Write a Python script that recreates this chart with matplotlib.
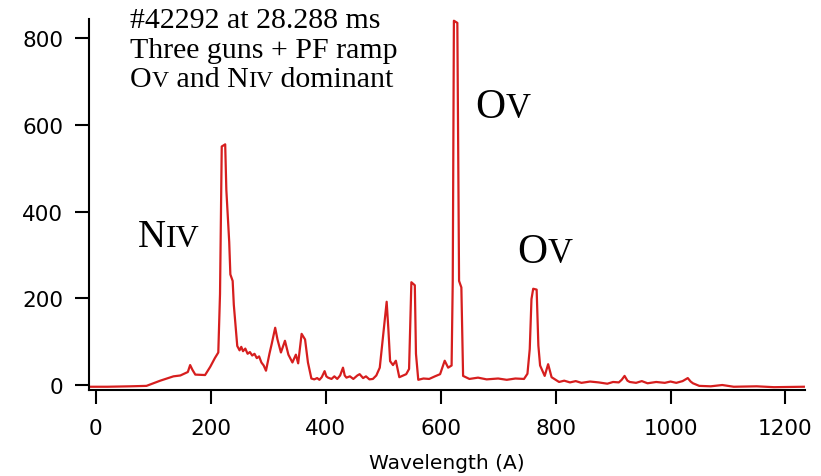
import matplotlib
matplotlib.use("Agg")
import matplotlib.pyplot as plt

# spectrum (wavelength in A, intensity)
wavelength = [-10, 20, 60, 88, 112, 135, 147, 160, 164, 168, 173, 190, 199, 207, 213,
              216, 219, 225, 227, 232, 234, 238, 240, 246, 250, 253, 256, 260, 264, 268,
              272, 276, 280, 284, 288, 292, 296, 302, 306, 312, 316, 322, 329, 335, 342,
              348, 352, 358, 364, 369, 375, 380, 385, 389, 393, 398, 401, 404, 410, 415,
              420, 425, 430, 433, 436, 442, 448, 455, 459, 465, 470, 476, 482, 488, 494,
              501, 506, 509, 512, 517, 522, 528, 540, 545, 549, 555, 557, 561, 570, 580,
              590, 599, 607, 613, 619, 621, 623, 629, 632, 636, 639, 650, 665, 680, 700,
              715, 730, 745, 751, 755, 758, 761, 767, 770, 773, 781, 787, 793, 806, 815,
              825, 835, 845, 860, 875, 890, 900, 910, 915, 920, 925, 929, 940, 950, 960,
              975, 990, 1000, 1010, 1021, 1030, 1035, 1039, 1050, 1070, 1090, 1110, 1150, 1180,
              1232]
intensity = [-4, -4, -3, -2, 10, 20, 22, 30, 46, 35, 24, 23, 42, 62, 75,
             210, 550, 555, 450, 330, 255, 240, 185, 90, 80, 88, 78, 84, 72, 76,
             68, 72, 62, 66, 52, 45, 33, 72, 95, 132, 105, 75, 102, 70, 52,
             70, 50, 118, 105, 52, 15, 13, 16, 12, 18, 32, 20, 17, 14, 20,
             14, 22, 40, 22, 17, 20, 14, 22, 25, 16, 20, 13, 14, 22, 40,
             128, 192, 128, 55, 46, 56, 18, 25, 37, 237, 230, 72, 12, 15, 14,
             20, 25, 56, 40, 45, 240, 840, 835, 240, 225, 21, 14, 17, 13, 15,
             12, 15, 14, 26, 83, 198, 222, 220, 91, 45, 21, 48, 18, 7, 10,
             6, 9, 5, 8, 6, 3, 7, 6, 12, 21, 10, 7, 5, 9, 4,
             7, 5, 8, 5, 9, 16, 8, 4, -2, -3, 0, -4, -3, -5,
             -4]

xticks = [0, 200, 400, 600, 800, 1000, 1200]
yticks = [0, 200, 400, 600, 800]

W, H = 821, 477
fig = plt.figure(figsize=(W / 100, H / 100), dpi=100)
ax = fig.add_axes([89 / W, 86 / H, (805 - 89) / W, (457 - 86) / H])

ax.plot(wavelength, intensity, color='#d61e1e', lw=1.6)

ax.set_xlim(-12, 1234)
ax.set_ylim(-11.5, 844)
ax.set_xticks(xticks)
ax.set_yticks(yticks)
for s in ['top', 'right']:
    ax.spines[s].set_visible(False)
for s in ['left', 'bottom']:
    ax.spines[s].set_linewidth(1.5)
ax.tick_params(axis='both', length=10, width=1.5, labelsize=15.5, direction='out')
ax.tick_params(axis='y', pad=8.5)
ax.tick_params(axis='x', pad=10)
ax.set_xlabel('Wavelength (A)', fontsize=14.5, labelpad=11)

serif = 'Liberation Serif'


def chain(parts, x, y):
    # pieces of text on one baseline, each placed right after the last one
    prev = fig.text(x / W, y / H, parts[0][0], fontsize=parts[0][1],
                    family=serif, va='baseline', ha='left')
    for s, size in parts[1:]:
        prev = ax.annotate(s, xy=(1, y), xycoords=(prev, 'figure pixels'),
                           fontsize=size, family=serif, va='baseline', ha='left',
                           annotation_clip=False)


fig.text(130 / W, (477 - 28) / H, '#42292 at 28.288 ms', fontsize=21.5,
         family=serif, va='baseline')
fig.text(130 / W, (477 - 57.5) / H, 'Three guns + PF ramp', fontsize=21.5,
         family=serif, va='baseline')
chain([('O', 21.5), ('V', 17), (' and N', 21.5), ('IV', 17), (' dominant', 21.5)],
      130, 477 - 87)

chain([('N', 28), ('IV', 23)], 138, 477 - 247)
chain([('O', 30), ('V', 25)], 475, 477 - 118)
chain([('O', 30), ('V', 25)], 517, 477 - 263)

fig.savefig('out.png', dpi=100)
